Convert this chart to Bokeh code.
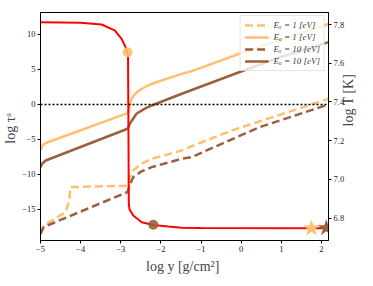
from bokeh.plotting import figure
from bokeh.models import Range1d, LinearAxis, FixedTicker, Span, Legend, LegendItem
from bokeh.embed import file_html
from bokeh.resources import INLINE

# ---- data ----
logy_eo1 = [-5.0, -4.95, -4.87, -2.83, -2.80, -2.76, -2.73, -2.69, -2.60, -2.40, -2.23, -1.48, -1.23, 0.18, 1.0, 2.175]
tau_eo1 = [-6.5, -5.8, -5.5, -1.24, -0.8, 0.2, 0.81, 1.2, 1.76, 2.5, 2.96, 4.38, 4.76, 7.71, 9.27, 11.5]

logy_eo10 = [-5.0, -4.95, -4.87, -2.83, -2.80, -2.76, -2.70, -2.61, -2.40, -2.23, -1.48, 0.18, 1.0, 2.175]
tau_eo10 = [-8.95, -8.4, -8.0, -3.47, -3.1, -2.6, -2.1, -1.33, -0.6, -0.14, 1.53, 5.1, 6.8, 8.9]

logy_ex1 = [-5.0, -4.92, -4.38, -4.29, -4.25, -2.83, -2.78, -2.69, -2.50, -2.23, -1.48, -1.23, -0.23, 2.175]
tau_ex1 = [-18.4, -17.3, -15.4, -13.95, -11.8, -11.6, -10.5, -9.4, -8.5, -7.76, -6.57, -5.95, -3.7, 0.81]

logy_ex10 = [-5.0, -4.92, -2.83, -2.78, -2.69, -2.50, -2.23, -1.48, -1.23, 0.43, 2.175]
tau_ex10 = [-18.5, -17.5, -12.5, -11.5, -10.4, -9.6, -8.95, -7.76, -7.5, -3.3, 0.0]

logy_T = [-5.0, -4.0, -3.48, -3.15, -2.98, -2.88, -2.82, -2.81, -2.80, -2.78, -2.69, -2.48, -2.19, -1.82, -1.48, -1.0, 2.175]
logT = [7.812, 7.809, 7.80, 7.77, 7.726, 7.683, 7.648, 7.30, 6.87, 6.845, 6.814, 6.779, 6.765, 6.757, 6.751, 6.750, 6.748]

circle_x = [-2.83, -2.19]
circle_T = [7.657, 6.766]
star_x = [1.75, 2.12]
star_T = [6.748, 6.750]

x_ticks = [-5, -4, -3, -2, -1, 0, 1, 2]
tau_ticks = [-15, -10, -5, 0, 5, 10]
T_ticks = [6.8, 7.0, 7.2, 7.4, 7.6, 7.8]

ORANGE = "#ffbf70"
BROWN = "#9d5f39"
FONT = "Liberation Serif"


def lab(v, nd=0):
    s = f"{v:.{nd}f}"
    return s.replace("-", "\u2212")


p = figure(frame_width=288, frame_height=228,
           x_range=Range1d(-5, 2.175), y_range=Range1d(-19.43, 13.14),
           output_backend="svg", toolbar_location=None,
           min_border_left=31, min_border_right=36, min_border_top=12, min_border_bottom=36)
p.extra_y_ranges = {"T": Range1d(6.685, 7.862)}
p.xgrid.visible = False
p.ygrid.visible = False
p.outline_line_color = "black"
p.outline_line_width = 1
p.background_fill_color = "white"
p.border_fill_color = "white"

axT = LinearAxis(y_range_name="T")
p.add_layout(axT, "right")

for ax, ticks, nd in [(p.xaxis[0], x_ticks, 0), (p.yaxis[0], tau_ticks, 0), (axT, T_ticks, 1)]:
    ax.ticker = FixedTicker(ticks=ticks)
    ax.major_label_overrides = {t: lab(t, nd) for t in ticks}
    ax.minor_tick_line_color = None
    ax.major_tick_in = 0
    ax.major_tick_out = 3
    ax.axis_line_color = "black"
    ax.major_tick_line_color = "black"
    ax.major_label_text_font = FONT
    ax.major_label_text_font_size = "8.5px"
    ax.major_label_text_color = "#222222"
    ax.major_label_standoff = 2
    ax.axis_label_text_font = FONT
    ax.axis_label_text_font_size = "14px"
    ax.axis_label_text_font_style = "normal"
    ax.axis_label_standoff = 1

p.xaxis[0].axis_label = "log  y [g/cm\u00b2]"
p.xaxis[0].axis_label_standoff = 4
p.yaxis[0].axis_label = "log  \u03c4\u1d43"
axT.axis_label = "log  T [K]"
axT.axis_label_orientation = 1.5707963267948966

span = Span(location=0, dimension="width", line_color="black", line_dash="2 2", line_width=1.5)
p.add_layout(span)

r1 = p.line(logy_ex1, tau_ex1, line_color=ORANGE, line_width=2.5, line_dash="8 4")
r2 = p.line(logy_eo1, tau_eo1, line_color=ORANGE, line_width=2.5)
r3 = p.line(logy_ex10, tau_ex10, line_color=BROWN, line_width=2.5, line_dash="8 4")
r4 = p.line(logy_eo10, tau_eo10, line_color=BROWN, line_width=2.5)

p.line(logy_T, logT, y_range_name="T", line_color="red", line_width=2)

p.scatter(circle_x, circle_T, y_range_name="T", marker="circle", size=10,
          fill_color=[ORANGE, BROWN], line_color=None, fill_alpha=0.9)
p.scatter(star_x, star_T, y_range_name="T", marker="star", size=18,
          fill_color=[ORANGE, BROWN], line_color=None)

legend = Legend(items=[
    LegendItem(label="E\u2093 = 1 [eV]", renderers=[r1]),
    LegendItem(label="E\u2092 = 1 [eV]", renderers=[r2]),
    LegendItem(label="E\u2093 = 10 [eV]", renderers=[r3]),
    LegendItem(label="E\u2092 = 10 [eV]", renderers=[r4]),
], location="top_right")
legend.label_text_font = FONT
legend.label_text_font_size = "9px"
legend.label_text_font_style = "italic"
legend.label_height = 10
legend.glyph_height = 10
legend.glyph_width = 24
legend.spacing = 2
legend.padding = 4
legend.margin = 3
legend.border_line_color = "#cccccc"
legend.background_fill_alpha = 0.8
p.add_layout(legend)

open("out.html", "w").write(file_html(p, INLINE))
